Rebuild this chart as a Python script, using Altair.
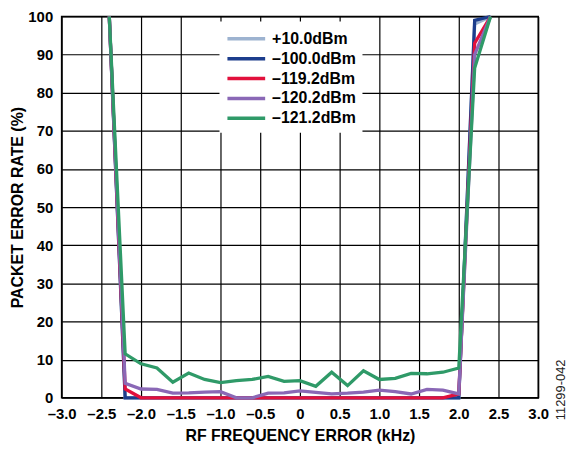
import altair as alt
import pandas as pd

freq = [-2.4, -2.2, -2.0, -1.8, -1.6, -1.4, -1.2, -1.0, -0.8, -0.6, -0.4, -0.2,
        0.0, 0.2, 0.4, 0.6, 0.8, 1.0, 1.2, 1.4, 1.6, 1.8, 2.0, 2.2, 2.4]

series_names = ["+10.0dBm", "–100.0dBm", "–119.2dBm", "–120.2dBm", "–121.2dBm"]
series_colors = ["#9db3d0", "#1c3d8c", "#e2103c", "#8a68b6", "#2f9a68"]

per_p10 = [100] + [0] * 22 + [98, 100]
per_m100 = [100] + [0] * 22 + [99, 100]
per_m119 = [100, 2.3] + [0] * 20 + [1.0, 93, 100]
per_m120 = [100, 3.8, 2.3, 2.2, 1.2, 1.3, 1.5, 1.6, 0, 0, 1.2, 1.3, 1.8,
            1.4, 1.0, 1.2, 1.5, 2.0, 1.6, 1.0, 2.2, 2.0, 1.0, 90, 100]
per_m121 = [100, 11.5, 8.9, 7.8, 4.1, 6.5, 4.8, 4.0, 4.5, 4.8, 5.6, 4.3, 4.5,
            3.0, 6.7, 3.2, 7.1, 4.8, 5.1, 6.4, 6.3, 6.7, 7.8, 86.5, 100]

x_ticks = [-3.0, -2.5, -2.0, -1.5, -1.0, -0.5, 0.0, 0.5, 1.0, 1.5, 2.0, 2.5, 3.0]
y_ticks = [0, 10, 20, 30, 40, 50, 60, 70, 80, 90, 100]

rows = []
for order, (name, vals) in enumerate(zip(series_names,
                                         [per_p10, per_m100, per_m119, per_m120, per_m121])):
    for f, v in zip(freq, vals):
        rows.append({"freq": f, "per": v, "series": name, "ord": order})
df = pd.DataFrame(rows)

FONT = "Liberation Sans"

lines = alt.Chart(df).mark_line(strokeWidth=3.3, strokeJoin="miter").encode(
    x=alt.X("freq:Q",
            scale=alt.Scale(domain=[-3, 3], nice=False, zero=False),
            axis=alt.Axis(values=x_ticks, title="RF FREQUENCY ERROR (kHz)",
                          labelExpr="datum.value == 0 ? '0' : (datum.value < 0 ? '–' + format(-datum.value, '.1f') : format(datum.value, '.1f'))",
                          labelFlush=False, labelPadding=9, titlePadding=6)),
    y=alt.Y("per:Q",
            scale=alt.Scale(domain=[0, 100], nice=False),
            axis=alt.Axis(values=y_ticks, title="PACKET ERROR RATE (%)",
                          labelFlush=False, labelPadding=9, titleX=-36)),
    color=alt.Color("series:N",
                    scale=alt.Scale(domain=series_names, range=series_colors),
                    legend=alt.Legend(title=None, orient="none", legendX=159, legendY=5,
                                      symbolType="M-1,0L3,0", symbolSize=361,
                                      symbolStrokeWidth=3.5, labelFont=FONT,
                                      labelFontSize=16, labelFontWeight="bold",
                                      labelColor="black", fillColor="white",
                                      padding=6, rowPadding=-1, labelOffset=24)),
    detail="ord:O",
    order="freq:Q",
)

note = alt.Chart(pd.DataFrame({"t": ["11299-042"]})).mark_text(
    angle=270, fontSize=13, font=FONT, color="#222"
).encode(x=alt.value(503), y=alt.value(376), text="t:N")

chart = alt.layer(lines, note).properties(
    width=480, height=384,
    autosize=alt.AutoSizeParams(type="none"),
    padding={"left": 54, "top": 7, "right": 30, "bottom": 47},
).configure_view(
    stroke="black", strokeWidth=1.5
).configure_axis(
    grid=True, gridColor="black", gridWidth=1.2, gridOpacity=1,
    domain=False, ticks=False, labelOverlap=False,
    labelFont=FONT, labelFontSize=15, labelFontWeight="bold", labelColor="black",
    titleFont=FONT, titleFontSize=16, titleFontWeight="bold", titleColor="black",
)

chart.save("out.html", embed_options={"renderer": "svg", "actions": False})
